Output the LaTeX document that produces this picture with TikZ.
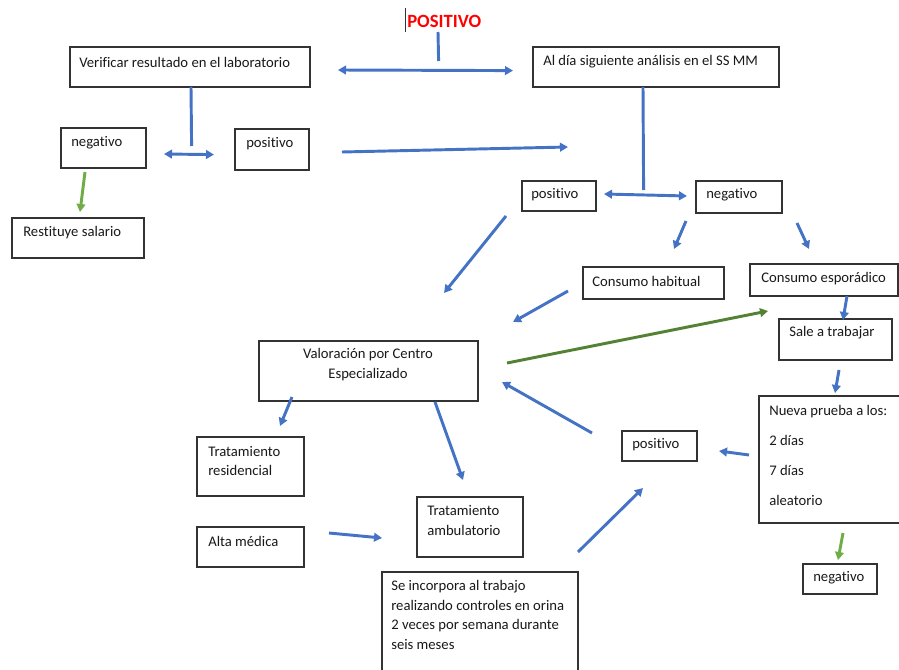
\documentclass[tikz,border=0pt]{standalone}
\usepackage{fontspec}
\setmainfont{Carlito}[Ligatures={NoCommon,NoRare,NoContextual},Contextuals={NoAlternate}]
\usetikzlibrary{arrows.meta,fit}
\definecolor{oblue}{HTML}{4472C4}
\definecolor{ogreen}{HTML}{70AD47}
\definecolor{dgreen}{HTML}{548235}
\definecolor{ored}{HTML}{FF0000}
\tikzset{
  box/.style={draw=black!80, line width=0.9pt, inner sep=0pt},
  txt/.style={inner sep=0pt, anchor=west, align=left, font=\fontsize{11}{14.6}\selectfont, text=black!90},
  blueline/.style={draw=oblue, line width=2.2pt},
  arr/.style={draw=oblue, line width=2.2pt, arrows={-Triangle[length=6pt,width=6.5pt]}},
  dbl/.style={draw=oblue, line width=2.2pt, arrows={Triangle[length=6pt,width=6.5pt]-Triangle[length=6pt,width=6.5pt]}},
  garr/.style={draw=ogreen, line width=2.2pt, arrows={-Triangle[length=6pt,width=6.5pt]}},
  dgarr/.style={draw=dgreen, line width=2.2pt, arrows={-Triangle[length=6pt,width=6.5pt]}},
}
\begin{document}
\begin{tikzpicture}[x=0.75pt,y=-0.75pt]
\useasboundingbox (0,0) rectangle (899,670);
\clip (0,0) rectangle (899,670);
\fill[white] (0,0) rectangle (899,670);

% title
\node[inner sep=0pt, anchor=west, font=\fontsize{14}{16}\selectfont\bfseries, text=ored] (title) at (407,21) {POSITIVO};
\draw[black!80, line width=0.6pt] ([xshift=-1pt]title.west |- 0,8) coordinate (cur1) -- ([xshift=-1pt]title.west |- 0,32) coordinate (cur2);

% boxes
\node[box, fit={(70,47) (310,87)}] (ver) {};
\node[txt] (verT) at (79,62) {Verificar resultado en el laboratorio};
\node[box, fit={(533,47) (779,87)}] (dia) {};
\node[txt] (diaT) at (543,62) {Al día siguiente análisis en el SS MM};
\node[box, fit={(61,128) (146,168)}] (neg1) {};
\node[txt] (neg1T) at (71,143) {negativo};
\node[box, fit={(235,129) (309,170)}] (pos1) {};
\node[txt] (pos1T) at (246,144) {positivo};
\node[box, fit={(12,218) (144,258)}] (rest) {};
\node[txt] (restT) at (23,233) {Restituye salario};
\node[box, fit={(522,181) (596,211)}] (pos2) {};
\node[txt] (pos2T) at (531,195) {positivo};
\node[box, fit={(696,181) (782,213)}] (neg2) {};
\node[txt] (neg2T) at (706,195) {negativo};
\node[box, fit={(583,267) (724,299)}] (hab) {};
\node[txt] (habT) at (592,281) {Consumo habitual};
\node[box, fit={(750,264) (898,296)}] (esp) {};
\node[txt] (espT) at (761,279) {Consumo esporádico};
\node[box, fit={(779,319) (892,360)}] (sale) {};
\node[txt] (saleT) at (789,333) {Sale a trabajar};
\node[box, fit={(759,396) (905,523)}] (nueva) {};
\node[txt, font=\fontsize{11}{22.5}\selectfont] (nuevaT) at (769,455) {Nueva prueba a los:\\2 días\\7 días\\aleatorio};
\node[box, fit={(622,431) (697,461)}] (pos3) {};
\node[txt] (pos3T) at (632,445) {positivo};
\node[box, fit={(803,564) (877,594)}] (neg3) {};
\node[txt] (neg3T) at (813,578) {negativo};
\node[box, fit={(259,341) (478,401)}] (val) {};
\node[txt, anchor=center, align=center] (valT) at (368,364.5) {Valoración por Centro\\Especializado};
\node[box, fit={(197,437) (304,496)}] (res) {};
\node[txt] (resT) at (208,461) {Tratamiento\\residencial};
\node[box, fit={(197,527) (304,567)}] (alta) {};
\node[txt] (altaT) at (208,541) {Alta médica};
\node[box, fit={(417,497) (523,557)}] (amb) {};
\node[txt] (ambT) at (427,520.5) {Tratamiento\\ambulatorio};
\node[box, fit={(382,572) (578,680)}] (inc) {};
\node[txt] (incT) at (391,615) {Se incorpora al trabajo\\realizando controles en orina\\2 veces por semana durante\\seis meses};

% connector end points
\coordinate (c1a) at (438,32);  \coordinate (c1b) at (438.6,61);
\coordinate (c2a) at (338,70);  \coordinate (c2b) at (513,70.6);
\coordinate (c3a) at (191,87);  \coordinate (c3b) at (191.6,146);
\coordinate (c4a) at (164,154); \coordinate (c4b) at (214,154.6);
\coordinate (c5a) at (342,152); \coordinate (c5b) at (568,147);
\coordinate (c6a) at (85,172);  \coordinate (c6b) at (80,212);
\coordinate (c7a) at (643,87);  \coordinate (c7b) at (643.6,190);
\coordinate (c8a) at (604,194); \coordinate (c8b) at (687,196);
\coordinate (c9a) at (686,221); \coordinate (c9b) at (674,249);
\coordinate (c10a) at (797,223); \coordinate (c10b) at (809,249);
\coordinate (c11a) at (506,216); \coordinate (c11b) at (444,293);
\coordinate (c12a) at (568,291); \coordinate (c12b) at (513,322);
\coordinate (c13a) at (507,363); \coordinate (c13b) at (768,311);
\coordinate (c14a) at (847,296); \coordinate (c14b) at (843,320);
\coordinate (c15a) at (839,370); \coordinate (c15b) at (835,393);
\coordinate (c16a) at (749,455); \coordinate (c16b) at (719,451);
\coordinate (c17a) at (843,533); \coordinate (c17b) at (838,560);
\coordinate (c18a) at (592,433); \coordinate (c18b) at (502,382);
\coordinate (c19a) at (578,552); \coordinate (c19b) at (643,488);
\coordinate (c20a) at (292,397); \coordinate (c20b) at (280,426);
\coordinate (c21a) at (435,402); \coordinate (c21b) at (463,480);
\coordinate (c22a) at (329,533); \coordinate (c22b) at (382,538);

% connectors
\draw[blueline] (c1a) -- (c1b);
\draw[dbl] (c2a) -- (c2b);
\draw[blueline] (c3a) -- (c3b);
\draw[dbl] (c4a) -- (c4b);
\draw[arr] (c5a) -- (c5b);
\draw[garr] (c6a) -- (c6b);
\draw[blueline] (c7a) -- (c7b);
\draw[dbl] (c8a) -- (c8b);
\draw[arr] (c9a) -- (c9b);
\draw[arr] (c10a) -- (c10b);
\draw[arr] (c11a) -- (c11b);
\draw[arr] (c12a) -- (c12b);
\draw[dgarr] (c13a) -- (c13b);
\draw[arr] (c14a) -- (c14b);
\draw[arr] (c15a) -- (c15b);
\draw[arr] (c16a) -- (c16b);
\draw[garr] (c17a) -- (c17b);
\draw[arr] (c18a) -- (c18b);
\draw[arr] (c19a) -- (c19b);
\draw[arr] (c20a) -- (c20b);
\draw[arr] (c21a) -- (c21b);
\draw[arr] (c22a) -- (c22b);
\end{tikzpicture}
\end{document}
